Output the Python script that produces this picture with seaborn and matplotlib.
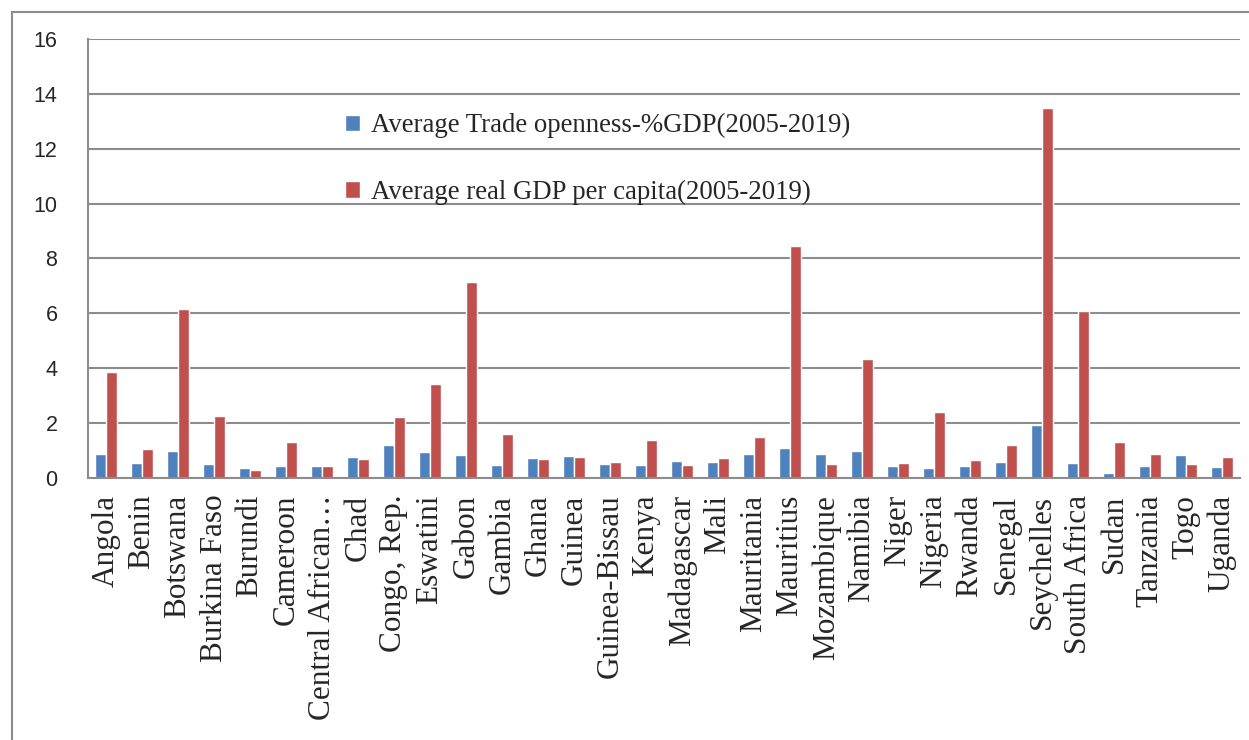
import matplotlib.pyplot as plt
import matplotlib
import seaborn as sns
import pandas as pd
from matplotlib.lines import Line2D

countries = ['Angola', 'Benin', 'Botswana', 'Burkina Faso', 'Burundi', 'Cameroon',
             'Central African…', 'Chad', 'Congo, Rep.', 'Eswatini', 'Gabon', 'Gambia',
             'Ghana', 'Guinea', 'Guinea-Bissau', 'Kenya', 'Madagascar', 'Mali',
             'Mauritania', 'Mauritius', 'Mozambique', 'Namibia', 'Niger', 'Nigeria',
             'Rwanda', 'Senegal', 'Seychelles', 'South Africa', 'Sudan', 'Tanzania',
             'Togo', 'Uganda']
trade = [0.87, 0.53, 0.97, 0.52, 0.38, 0.45, 0.43, 0.77, 1.2, 0.95, 0.83, 0.47,
         0.73, 0.8, 0.51, 0.47, 0.62, 0.58, 0.87, 1.09, 0.87, 0.97, 0.42, 0.36,
         0.42, 0.57, 1.92, 0.55, 0.2, 0.42, 0.84, 0.4]
gdp = [3.85, 1.05, 6.15, 2.25, 0.3, 1.3, 0.45, 0.68, 2.23, 3.43, 7.15, 1.6,
       0.69, 0.75, 0.58, 1.38, 0.47, 0.73, 1.48, 8.45, 0.5, 4.35, 0.55, 2.4,
       0.65, 1.2, 13.5, 6.1, 1.32, 0.86, 0.52, 0.78]
series = ['Average Trade openness-%GDP(2005-2019)', 'Average real GDP per capita(2005-2019)']
colors = ['#4F81BD', '#C0504D']

df = pd.DataFrame({'country': countries * 2,
                   'value': trade + gdp,
                   'series': [series[0]] * len(countries) + [series[1]] * len(countries)})

sns.set_style('white')
serif = ['Liberation Serif', 'DejaVu Serif']
sans = ['Liberation Sans', 'DejaVu Sans']

fig = plt.figure(figsize=(12.49, 7.40), dpi=100)
ax = fig.add_axes([88/1249, 1 - 478/740, (1240-88)/1249, (478-39)/740])

sns.barplot(data=df, x='country', y='value', hue='series', palette=colors,
            width=0.6, gap=0, saturation=1, ax=ax, legend=True)

grid_c = '#8C8C8C'
ax.set_ylim(0, 16)
ax.set_xlim(-0.5, len(countries) - 0.5)
ax.set_yticks(range(0, 17, 2))
ax.yaxis.grid(True, color=grid_c, lw=1.5)
ax.set_axisbelow(True)
for s in ['top', 'right']:
    ax.spines[s].set_visible(False)
for s in ['left', 'bottom']:
    ax.spines[s].set_color(grid_c)
    ax.spines[s].set_linewidth(1.5)

ax.tick_params(axis='y', length=8, width=1.5, color=grid_c, pad=14)
ax.set_yticklabels([str(v) for v in range(0, 17, 2)], family=sans, fontsize=15.5)
ax.set_xticks(range(len(countries)))
ax.set_xticklabels(countries, rotation=90, family=serif, fontsize=22.5)
ax.tick_params(axis='x', length=0, pad=12)
ax.set_xticks([i - 0.5 for i in range(len(countries) + 1)], minor=True)
ax.tick_params(axis='x', which='minor', length=8, width=1.5, color=grid_c)
ax.set_xlabel('')
ax.set_ylabel('')

ax.legend(loc='upper left', bbox_to_anchor=(321/1249, 1 - 89/740),
          bbox_transform=fig.transFigure, frameon=False,
          prop={'family': serif, 'size': 19.3}, labelspacing=1.55,
          handlelength=0.55, handleheight=0.55, handletextpad=0.4)

# chart-area frame
fig.add_artist(Line2D([12/1249, 12/1249], [0, 1 - 12/740], color=grid_c, lw=1.5))
fig.add_artist(Line2D([12/1249, 1], [1 - 12/740, 1 - 12/740], color=grid_c, lw=1.5))

fig.savefig('out.png', dpi=100)
